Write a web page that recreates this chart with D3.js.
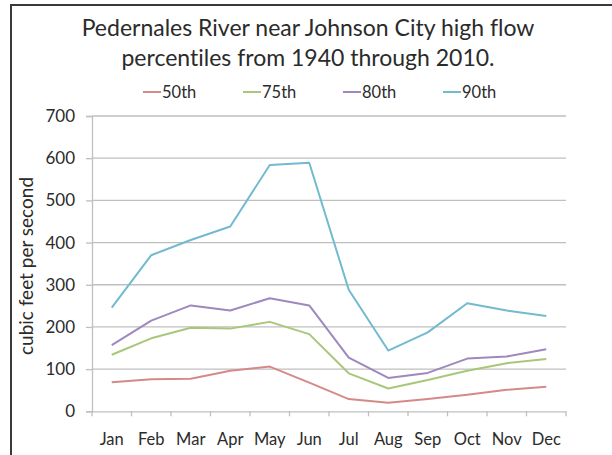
<!DOCTYPE html>
<html><head><meta charset="utf-8">
<script src="https://cdn.jsdelivr.net/npm/d3@7"></script>
<style>
html,body{margin:0;padding:0;background:#fff;}
svg{display:block;font-family:Lato,"Liberation Sans",sans-serif;font-variant-ligatures:none;}
</style></head>
<body><svg id="c" width="612" height="455"></svg>
<script>
const months = ["Jan","Feb","Mar","Apr","May","Jun","Jul","Aug","Sep","Oct","Nov","Dec"];
const seriesNames = ["50th","75th","80th","90th"];
const p50 = [69, 76, 77, 96, 106, 68, 29, 20, 29, 39, 51, 58];
const p75 = [134, 173, 198, 196, 212, 183, 90, 54, 74, 96, 114, 124];
const p80 = [157, 215, 251, 239, 268, 251, 127, 79, 91, 125, 130, 147];
const p90 = [246, 370, 406, 438, 584, 589, 288, 144, 187, 256, 239, 226];
const colors = ["#d58a87", "#a9c77a", "#9e88bd", "#72bacf"];
const yTicks = [0,100,200,300,400,500,600,700];
const titleLines = ["Pedernales River near Johnson City high flow", "percentiles from 1940 through 2010."];
const yTitle = "cubic feet per second";

const svg = d3.select("#c");
// outer border
svg.append("rect").attr("x",11).attr("y",5).attr("width",640).attr("height",480)
  .attr("fill","none").attr("stroke","#3a3a3a").attr("stroke-width",2);

const L=92, R=566, T=116, B=411.3;
const x = d3.scaleBand().domain(months).range([L,R]);
const y = d3.scaleLinear().domain([0,700]).range([B,T]);

// gridlines
svg.append("g").selectAll("line").data(yTicks.filter(d=>d>0)).join("line")
  .attr("x1",L).attr("x2",R).attr("y1",d=>y(d)).attr("y2",d=>y(d))
  .attr("stroke","#bfbfbf").attr("stroke-width",1.3);

// y axis
const ya = svg.append("g").attr("transform",`translate(${L},0)`)
  .call(d3.axisLeft(y).tickValues(yTicks).tickSize(6).tickPadding(11));
ya.select(".domain").attr("stroke","#bfbfbf").attr("stroke-width",1.3);
ya.selectAll(".tick line").attr("stroke","#bfbfbf").attr("stroke-width",1.3);
ya.selectAll("text").attr("font-size",17).attr("fill","#2b2b2b").attr("font-family","Lato");

// x axis
const xa = svg.append("g").attr("transform",`translate(0,${B})`)
  .call(d3.axisBottom(x).tickSize(0).tickPadding(22));
xa.select(".domain").attr("stroke","#bfbfbf").attr("stroke-width",1.3);
xa.selectAll("text").attr("font-size",16.5).attr("fill","#2b2b2b").attr("font-family","Lato");
// x tick marks at band boundaries
const bounds = months.map(m=>x(m)).concat([R]);
svg.append("g").selectAll("line").data(bounds).join("line")
  .attr("x1",d=>d).attr("x2",d=>d).attr("y1",B).attr("y2",B+5)
  .attr("stroke","#bfbfbf").attr("stroke-width",1.3);

// lines
const all = [p50,p75,p80,p90];
const line = d3.line().x((d,i)=>x(months[i])+x.bandwidth()/2).y(d=>y(d));
svg.append("g").selectAll("path").data(all).join("path")
  .attr("d",line).attr("fill","none").attr("stroke",(d,i)=>colors[i])
  .attr("stroke-width",2).attr("stroke-linejoin","round");

// title
svg.append("g").selectAll("text").data(titleLines).join("text")
  .attr("x",308).attr("y",(d,i)=>36+i*30).attr("text-anchor","middle")
  .attr("font-size",23).attr("fill","#2b2b2b").text(d=>d);

// legend
const lg = svg.append("g").selectAll("g").data(seriesNames).join("g")
  .attr("transform",(d,i)=>`translate(${143+i*100},0)`);
lg.append("line").attr("x1",0).attr("x2",18).attr("y1",92).attr("y2",92)
  .attr("stroke",(d,i)=>colors[i]).attr("stroke-width",2);
lg.append("text").attr("x",19).attr("y",98).attr("font-size",16.5).attr("fill","#2b2b2b").text(d=>d);

// y title
svg.append("text").attr("transform","translate(33,266) rotate(-90)")
  .attr("text-anchor","middle").attr("font-size",19).attr("fill","#2b2b2b").text(yTitle);
</script></body></html>
